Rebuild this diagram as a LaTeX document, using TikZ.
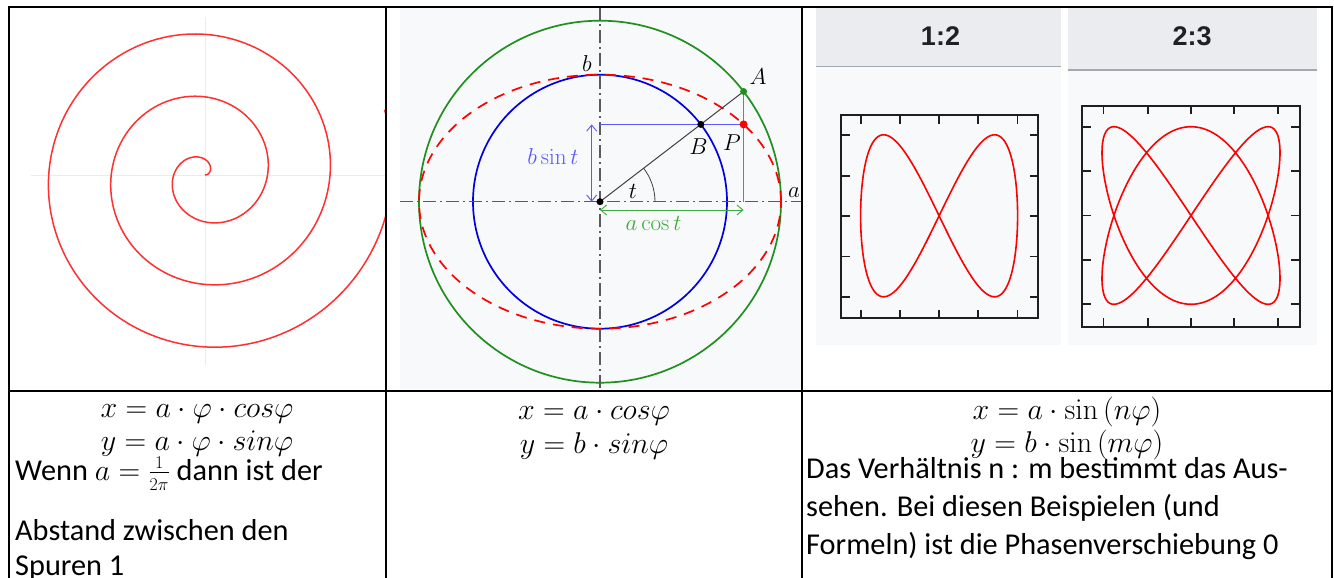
\RequirePackage{fix-cm}
\documentclass[tikz,border=0pt]{standalone}
\usepackage[no-math]{fontspec}
\setmainfont{Carlito}
\newfontfamily\hdrfont{Liberation Sans}
\usetikzlibrary{arrows.meta}
\newcommand\myfr[2]{\frac{\hbox{\fontsize{18}{18}\selectfont$#1$}}{\hbox{\fontsize{18}{18}\selectfont$#2$}}}
\definecolor{spiralred}{HTML}{FF3030}
\definecolor{axisgray}{HTML}{ECECEC}
\definecolor{panelbg}{HTML}{F8F9FA}
\definecolor{hdrbg}{HTML}{EAECF0}
\definecolor{hdrline}{HTML}{A2A9B1}
\definecolor{hdrtext}{HTML}{202122}
\definecolor{cgreen}{HTML}{1F8F1F}
\definecolor{lgreen}{HTML}{3DAA3D}
\definecolor{cblue}{HTML}{0000E0}
\definecolor{lblue}{HTML}{5A5AF5}
\definecolor{dashgray}{HTML}{5A5A5A}
\tikzset{
  border/.style={line width=2pt,black},
  spiral/.style={spiralred,line width=1.5pt},
  lightaxis/.style={axisgray,line width=1pt},
  dashaxis/.style={dashgray,line width=1.2pt,dash pattern=on 13pt off 4pt on 2pt off 4pt},
  lis/.style={red,line width=1.6pt},
  frame/.style={black!88,line width=2pt},
  tick/.style={black!88,line width=1.8pt},
  body/.style={inner sep=0pt,font=\fontsize{30.3}{37}\selectfont},
  mth/.style={inner sep=0pt,font=\fontsize{30}{36}\selectfont},
  lab/.style={inner sep=0pt,font=\fontsize{23}{28}\selectfont},
  dot/.style={circle,inner sep=0pt,minimum size=7pt},
  dblarrow/.style={line width=0.9pt,{Straight Barb[length=6pt,width=10pt]}-{Straight Barb[length=6pt,width=10pt]}}
}
\begin{document}
\begin{tikzpicture}[x=1pt,y=1pt]
\useasboundingbox (0,0) rectangle (1334,-578);
\fill[white] (0,0) rectangle (1334,-578);

% ---------- column 1: spiral ----------
\begin{scope}
\clip (9,-7) rectangle (386,-390);
\draw[lightaxis] (30.7,-175) -- (386,-175);
\draw[lightaxis] (205,-16.7) -- (205,-365);
\draw[spiral] plot[domain=0:1100,samples=600,variable=\t]
  ({205+0.17366*\t*cos(\t)},{-175+0.17366*\t*sin(\t)});
\end{scope}

% ---------- column 2: ellipse construction ----------
\fill[panelbg] (400,-7) rectangle (802,-389);
\coordinate (O) at (600,-201.7);
\coordinate (Apt) at (743.6,-91.5);
\coordinate (Bpt) at (700.8,-124.4);
\coordinate (Ppt) at (743.6,-124.4);
\coordinate (Yb) at (600,-124.4);
\coordinate (Xa) at (743.6,-201.7);
\coordinate (ArrT) at (591.7,-124.4);
\coordinate (ArrB) at (591.7,-201.7);
\coordinate (ArrL) at (600,-210);
\coordinate (ArrR) at (743.6,-210);
\coordinate (HL) at (400,-201.7);
\coordinate (HR) at (802,-201.7);
\coordinate (VT) at (600,-7);
\coordinate (VB) at (600,-389);
\draw[cgreen,line width=1.7pt] (O) circle[radius=181];
\draw[cblue,line width=1.7pt] (O) circle[radius=127];
\draw[red,line width=1.7pt,dash pattern=on 11pt off 8pt] (O) ellipse[x radius=181,y radius=127];
\draw[dashaxis] (HL) -- (HR);
\draw[dashaxis] (VT) -- (VB);
\draw[lblue,line width=1pt] (Yb) -- (Ppt);
\draw[lgreen,line width=1pt] (Apt) -- (Xa);
\draw[black!75,line width=1pt] (O) -- (Apt);
\draw[black!75,line width=0.8pt] ([shift={(55,0)}]O) arc[start angle=0,end angle=37.5,radius=55];
\draw[dblarrow,lblue] (ArrT) -- (ArrB);
\draw[dblarrow,lgreen] (ArrL) -- (ArrR);
\node[dot,fill=black] (Odot) at (O) {};
\node[dot,fill=black] (Bdot) at (Bpt) {};
\node[dot,fill=cgreen] (Adot) at (Apt) {};
\node[dot,fill=red,minimum size=8pt] (Pdot) at (Ppt) {};
\node[lab] (lA) at (758,-77) {$A$};
\node[lab] (lB) at (698.5,-146.5) {$B$};
\node[lab] (lP) at (732,-142.5) {$P$};
\node[lab] (lb) at (587,-63.5) {$b$};
\node[lab] (la) at (794,-192.5) {$a$};
\node[lab] (lt) at (633,-191) {$t$};
\node[lab,text=lblue] (lbsin) at (553,-156.5) {$b\sin t$};
\node[lab,text=lgreen] (lacos) at (653.5,-223) {$a\cos t$};

% ---------- column 3: Lissajous ----------
\fill[hdrbg] (816,-7) rectangle (1061,-66.5);
\fill[panelbg] (816,-66.5) rectangle (1061,-345);
\draw[hdrline,line width=1.5pt] (816,-66.5) -- (1061,-66.5);
\fill[hdrbg] (1067.6,-7) rectangle (1316.5,-70);
\fill[panelbg] (1067.6,-70) rectangle (1316.5,-345);
\draw[hdrline,line width=1.5pt] (1067.6,-70) -- (1316.5,-70);
\node[inner sep=0pt,text=hdrtext,font=\hdrfont\bfseries\fontsize{27}{30}\selectfont] (h1) at (940.5,-36) {1:2};
\node[inner sep=0pt,text=hdrtext,font=\hdrfont\bfseries\fontsize{27}{30}\selectfont] (h2) at (1192,-36) {2:3};

% plot 1
\draw[frame] (841,-115) rectangle (1038,-318);
\foreach \xx in {860.7,899.9,939.1,978.3,1017.5}{
  \draw[tick] (\xx,-115) -- ++(0,-8.5);
  \draw[tick] (\xx,-318) -- ++(0,8.5);}
\foreach \yy in {134.7,175.6,215.8,256.4,296.6}{
  \draw[tick] (841,-\yy) -- ++(8.5,0);
  \draw[tick] (1038,-\yy) -- ++(-8.5,0);}
\draw[lis] plot[domain=0:360,samples=300,variable=\t]
  ({939.1+78.5*sin(\t)},{-215.8+81*sin(2*\t)}) -- cycle;

% plot 2
\draw[frame] (1082,-105.7) rectangle (1299.5,-326.6);
\foreach \xx in {1103.4,1147.8,1191,1234,1278.3}{
  \draw[tick] (\xx,-105.7) -- ++(0,-8.5);
  \draw[tick] (\xx,-326.6) -- ++(0,8.5);}
\foreach \yy in {126.8,171.2,215.5,259.8,304.1}{
  \draw[tick] (1082,-\yy) -- ++(8.5,0);
  \draw[tick] (1299.5,-\yy) -- ++(-8.5,0);}
\draw[lis] plot[domain=0:360,samples=400,variable=\t]
  ({1191+89*sin(2*\t)},{-215.5+88.8*sin(3*\t)}) -- cycle;

% ---------- bottom row text ----------
\node[mth,anchor=base] (m1a) at (197,-417) {$x = a\cdot\varphi\cdot cos\varphi$};
\node[mth,anchor=base] (m1b) at (197,-450.5) {$y = a\cdot\varphi\cdot sin\varphi$};
\node[body,anchor=base west] (t1a) at (15,-480) {Wenn {\fontsize{30}{36}\selectfont$a=\myfr{1}{2\pi}$} dann ist der};
\node[body,anchor=base west] (t1b) at (15,-540) {Abstand zwischen den};
\node[body,anchor=base west] (t1c) at (15,-575.5) {Spuren 1};

\node[mth,anchor=base] (m2a) at (594,-419) {$x = a\cdot cos\varphi$};
\node[mth,anchor=base] (m2b) at (594,-453) {$y = b\cdot sin\varphi$};

\node[mth,anchor=base] (m3a) at (1067,-419) {$x = a\cdot\sin\,(n\varphi)$};
\node[mth,anchor=base] (m3b) at (1067,-452) {$y = b\cdot\sin\,(m\varphi)$};
\node[body,anchor=base west] (t3a) at (806,-478) {Das Verhältnis n : m bestimmt das Aus-};
\node[body,anchor=base west] (t3b) at (806,-516.3) {sehen. Bei diesen Beispielen (und};
\node[body,anchor=base west] (t3c) at (806,-554.5) {Formeln) ist die Phasenverschiebung 0};

% ---------- table borders ----------
\coordinate (TL) at (8.5,-7);
\coordinate (TR) at (1332,-7);
\coordinate (BL) at (8.5,-578);
\coordinate (BR) at (1332,-578);
\draw[border] (BL) -- (TL) -- (TR) -- (BR);
\draw[border] (386,-7) -- (386,-578);
\draw[border] (802,-7) -- (802,-578);
\draw[border] (8.5,-391) -- (1332,-391);
\end{tikzpicture}
\end{document}
